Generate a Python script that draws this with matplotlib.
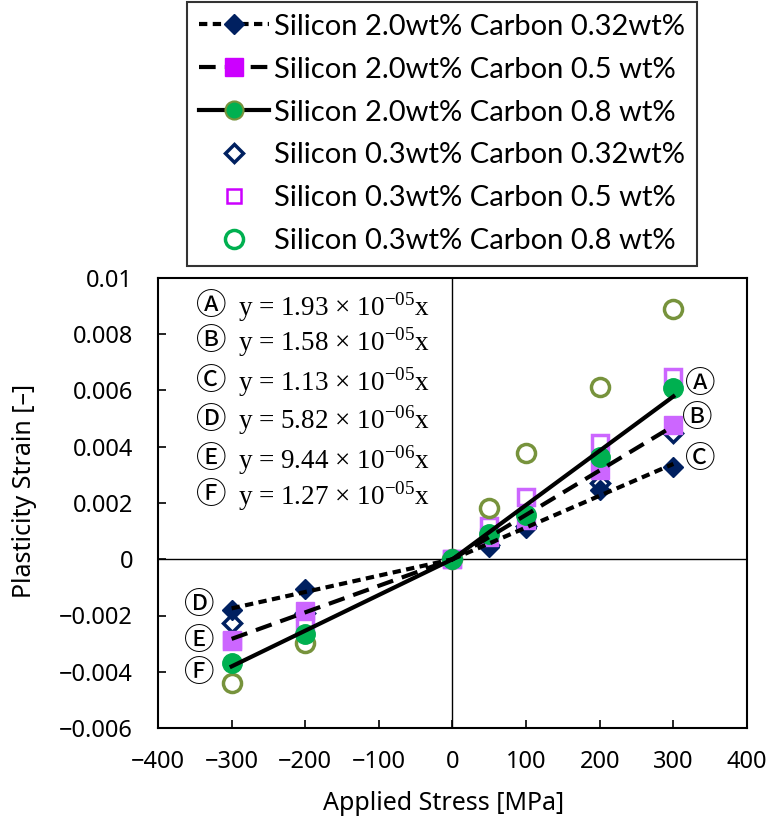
import matplotlib
matplotlib.use('Agg')
import matplotlib.pyplot as plt
from matplotlib.lines import Line2D
from matplotlib.ticker import FixedLocator, FuncFormatter
import numpy as np

# 応力-塑性ひずみ
stress = [-300, -200, 0, 50, 100, 200, 300]

si20_c032 = [-0.0018, -0.00107, 0.0, 0.00045, 0.0011, 0.00245, 0.00328]
si20_c05 = [-0.00287, -0.00184, 0.0, 0.0008, 0.00138, 0.00317, 0.00477]
si20_c08 = [-0.00369, -0.00266, 0.0, 0.00089, 0.00157, 0.00365, 0.00609]
si03_c032 = [-0.00226, -0.0019, 0.0, 0.0005, 0.0012, 0.0027, 0.0045]
si03_c05 = [-0.0029, -0.00234, 0.0, 0.0012, 0.00222, 0.00413, 0.00649]
si03_c08 = [-0.00439, -0.00297, 0.0, 0.00183, 0.00377, 0.00613, 0.0089]

labels = ['Silicon 2.0wt% Carbon 0.32wt%', 'Silicon 2.0wt% Carbon 0.5 wt%',
          'Silicon 2.0wt% Carbon 0.8 wt%', 'Silicon 0.3wt% Carbon 0.32wt%',
          'Silicon 0.3wt% Carbon 0.5 wt%', 'Silicon 0.3wt% Carbon 0.8 wt%']

# 近似直線 (正側 A,B,C / 負側 D,E,F)
fit_letters = ['Ⓐ', 'Ⓑ', 'Ⓒ', 'Ⓓ', 'Ⓔ', 'Ⓕ']
fit_coef = ['1.93', '1.58', '1.13', '5.82', '9.44', '1.27']
fit_exp = ['-05', '-05', '-05', '-06', '-06', '-05']
slope_pos = [1.93e-5, 1.58e-5, 1.13e-5]   # C0.8, C0.5, C0.32
slope_neg = [1.27e-5, 9.44e-6, 5.82e-6]   # C0.8, C0.5, C0.32

navy = '#002060'
purple = '#CC66FF'
green = '#00B050'
olive = '#77933C'

fig = plt.figure(figsize=(7.71, 8.19), dpi=100)
ax = fig.add_axes([158/771, 91/819, 589/771, 450/819])

tick_font = ['Noto Sans', 'DejaVu Sans']
circ_font = ['Noto Sans CJK JP', 'DejaVu Sans']

# 0.3wt% (白抜き)
ax.plot(stress, si03_c032, 'D', ms=9, mfc='white', mec=navy, mew=2.5, ls='none', zorder=2)
ax.plot(stress, si03_c05, 's', ms=12, mfc='white', mec=purple, mew=2.5, ls='none', zorder=2)
ax.plot(stress, si03_c08, 'o', ms=13, mfc='white', mec=olive, mew=2.5, ls='none', zorder=2)
# 2.0wt% (塗りつぶし)
ax.plot(stress, si20_c032, 'D', ms=10, color=navy, ls='none', zorder=3)
ax.plot(stress, si20_c05, 's', ms=13, color=purple, ls='none', zorder=3)
ax.plot(stress, si20_c08, 'o', ms=14, color=green, ls='none', zorder=3)

# 近似直線
styles = [dict(ls='-'), dict(ls=(0, (4, 2.2))), dict(ls=(0, (2, 1.3)))]
for sp, sn, st in zip(slope_pos, slope_neg, styles):
    xp = np.array([0, max(stress)])
    xn = np.array([min(stress), 0])
    ax.plot(xp, sp * xp, color='black', lw=3, zorder=4, **st)
    ax.plot(xn, sn * xn, color='black', lw=3, zorder=4, **st)

ax.axhline(0, color='black', lw=1, zorder=1)
ax.axvline(0, color='black', lw=1, zorder=1)

ax.set_xlim(-400, 400)
ax.set_ylim(-0.006, 0.01)
ax.xaxis.set_major_locator(FixedLocator(np.arange(-400, 401, 100)))
ax.yaxis.set_major_locator(FixedLocator(np.arange(-0.006, 0.0101, 0.002)))
ax.xaxis.set_major_formatter(FuncFormatter(lambda v, p: f'{v:g}'.replace('-', '−')))
ax.yaxis.set_major_formatter(FuncFormatter(lambda v, p: ('0' if abs(v) < 1e-12 else f'{round(v, 4):g}').replace('-', '−')))
ax.tick_params(direction='in', length=6, width=1.2, labelsize=17)
ax.tick_params(axis='y', pad=18)
ax.tick_params(axis='x', pad=16)
for lab in ax.get_xticklabels() + ax.get_yticklabels():
    lab.set_family(tick_font)
for s in ax.spines.values():
    s.set_linewidth(1.5)

ax.set_xlabel('Applied Stress [MPa]', fontsize=18, family=tick_font)
ax.set_ylabel('Plasticity Strain [–]', fontsize=18, family=tick_font)
ax.xaxis.set_label_coords(0.485, -0.14)
ax.yaxis.set_label_coords(-0.205, 0.527)

# 近似式
eq_y = [0.936, 0.858, 0.769, 0.684, 0.596, 0.516]
for i in range(6):
    ax.text(0.09, eq_y[i], fit_letters[i], transform=ax.transAxes, fontsize=22,
            family=circ_font, ha='center', va='center')
    ax.text(0.136, eq_y[i], f'y = {fit_coef[i]} × 10$^{{\\mathregular{{{fit_exp[i]}}}}}$x',
            transform=ax.transAxes, fontsize=19.5, family='Liberation Serif', ha='left', va='center')

# 直線ラベル
ax.text(336, 0.00623, 'Ⓐ', fontsize=22, family=circ_font, ha='center', va='center')
ax.text(332, 0.00499, 'Ⓑ', fontsize=22, family=circ_font, ha='center', va='center')
ax.text(336, 0.00353, 'Ⓒ', fontsize=22, family=circ_font, ha='center', va='center')
ax.text(-344, -0.00166, 'Ⓓ', fontsize=22, family=circ_font, ha='center', va='center')
ax.text(-344, -0.00294, 'Ⓔ', fontsize=22, family=circ_font, ha='center', va='center')
ax.text(-344, -0.00405, 'Ⓕ', fontsize=22, family=circ_font, ha='center', va='center')

handles = [
    Line2D([], [], color='black', lw=3, ls=(0, (2, 1.3)), marker='D', ms=10, mfc=navy, mec=navy),
    Line2D([], [], color='black', lw=3, ls=(0, (4, 2.2)), marker='s', ms=13, mfc='#CC00FF', mec='#CC00FF'),
    Line2D([], [], color='black', lw=3, ls='-', marker='o', ms=13, mfc=green, mec=olive, mew=1.5),
    Line2D([], [], ls='none', marker='D', ms=9, mfc='white', mec=navy, mew=2.5),
    Line2D([], [], ls='none', marker='s', ms=10, mfc='white', mec='#CC00FF', mew=1.8),
    Line2D([], [], ls='none', marker='o', ms=13, mfc='white', mec=green, mew=2.5),
]
leg = fig.legend(handles, labels, loc='upper left', bbox_to_anchor=(187/771, 1 - 2/819),
                 borderaxespad=0, frameon=True, fancybox=False, edgecolor='black',
                 prop={'family': 'Lato', 'size': 21}, handlelength=2.4, handletextpad=0.2,
                 labelspacing=0.58, borderpad=0.4)
leg.get_frame().set_linewidth(1.5)

fig.savefig('out.png', dpi=100)
